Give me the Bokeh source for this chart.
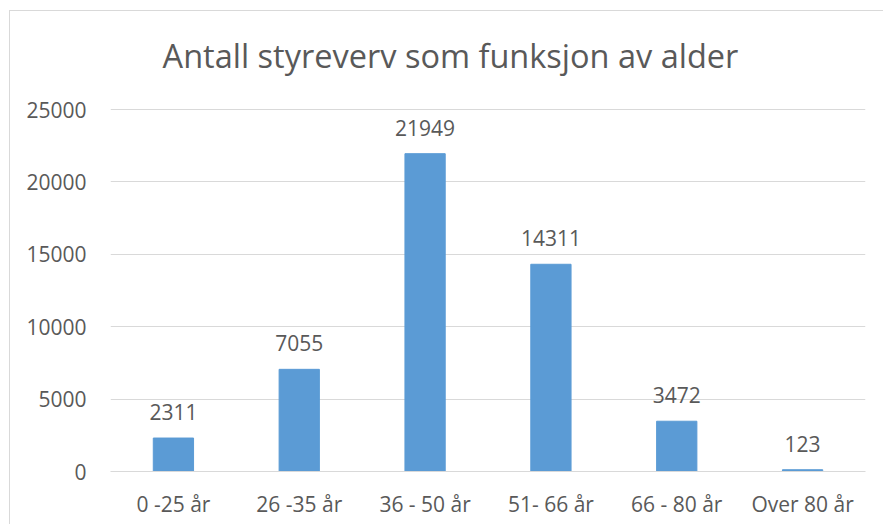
from bokeh.plotting import figure
from bokeh.models import Range1d, ColumnDataSource, Label
from bokeh.core.properties import value
from bokeh.embed import file_html
from bokeh.resources import INLINE

title_text = "Antall styreverv som funksjon av alder"
categories = ["0 -25 år", "26 -35 år", "36 - 50 år", "51- 66 år", "66 - 80 år", "Over 80 år"]
counts = [2311, 7055, 21949, 14311, 3472, 123]
y_ticks = [0, 5000, 10000, 15000, 20000, 25000]

TEXT = "#595959"
GRID = "#D9D9D9"
BAR = "#5B9BD5"
FONT = "Open Sans"

# layout (pixels): plot area from 0 at y=460 (canvas) to 25000 at y=98 (canvas);
# the frame is extended upward to the canvas top so the title can sit inside it
TOP_BORDER = 20
PX_PER_UNIT = 362 / 25000
y_end = (460 - TOP_BORDER) / PX_PER_UNIT

src = ColumnDataSource(dict(cat=categories, val=counts, lab=[str(v) for v in counts]))

p = figure(x_range=categories, y_range=Range1d(0, y_end),
           width=874, height=514, output_backend="svg", toolbar_location=None,
           min_border_left=100, min_border_right=19, min_border_top=TOP_BORDER, min_border_bottom=54)
p.styles = {"border-top": "1px solid #d9d9d9", "border-left": "1px solid #d9d9d9",
            "margin-top": "10px", "margin-left": "9px"}
p.outline_line_color = None
p.background_fill_color = "white"
p.border_fill_color = "white"

p.vbar(x="cat", top="val", width=0.32, source=src, color=BAR)
p.text(x="cat", y="val", text="lab", source=src, text_align="center",
       text_baseline="alphabetic", y_offset=-26, text_color=TEXT,
       text_font=value(FONT), text_font_size="21px")

p.add_layout(Label(x=340, y=416, x_units="screen", y_units="screen", text=title_text,
                   text_align="center", text_baseline="alphabetic", text_color=TEXT,
                   text_font=FONT, text_font_size="32.5px"))

p.xgrid.grid_line_color = None
p.ygrid.grid_line_color = GRID
p.ygrid.grid_line_width = 1
p.yaxis.ticker = y_ticks
p.yaxis.axis_line_color = None
p.yaxis.major_tick_line_color = None
p.yaxis.minor_tick_line_color = None
p.yaxis.major_label_standoff = 18
p.xaxis.axis_line_color = GRID
p.xaxis.major_tick_line_color = None
p.xaxis.major_label_standoff = 12
for ax in (p.xaxis, p.yaxis):
    ax.major_label_text_color = TEXT
    ax.major_label_text_font = FONT
    ax.major_label_text_font_size = "21px"

open("out.html", "w").write(file_html(p, INLINE))
